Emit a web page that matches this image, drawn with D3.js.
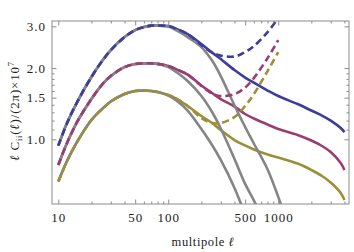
<!DOCTYPE html>
<html>
<head>
<meta charset="utf-8">
<script src="https://cdn.jsdelivr.net/npm/d3@7"></script>
<style>
  body { margin: 0; background: #fff; }
  svg { display: block; }
  .tick text { font-family: "Liberation Serif", serif; font-size: 13px; letter-spacing: 1px; fill: #222; }
  .tick line { stroke: #8c8c8c; }
</style>
</head>
<body>
<svg width="354" height="252"></svg>
<script>
const ells = [10, 12, 15, 20, 25, 30, 40, 50, 60, 70, 80, 100, 120, 150, 200, 250, 300, 400, 500, 600, 800, 1000, 1500, 2000, 2500, 3000, 3700, 4000];

const blueSolid = [0.940, 1.172, 1.451, 1.832, 2.140, 2.381, 2.702, 2.892, 2.978, 3.021, 3.021, 3.006, 2.920, 2.782, 2.525, 2.324, 2.182, 1.961, 1.823, 1.736, 1.607, 1.523, 1.409, 1.323, 1.260, 1.200, 1.116, 1.073];
const blueDashed = [0.940, 1.172, 1.451, 1.832, 2.140, 2.381, 2.702, 2.892, 2.978, 3.021, 3.021, 3.006, 2.920, 2.782, 2.500, 2.324, 2.257, 2.236, 2.335, 2.476, 2.836, 3.249, null, null, null, null, null, null];
const blueGray = [0.940, 1.172, 1.451, 1.832, 2.140, 2.381, 2.702, 2.892, 2.978, 3.021, 3.021, 2.992, 2.877, 2.702, 2.452, 2.150, 1.850, 1.389, 1.127, 0.960, 0.746, 0.571, 0.330, null, null, null, null, null];

const magentaSolid = [0.779, 0.965, 1.195, 1.479, 1.703, 1.850, 2.019, 2.079, 2.093, 2.093, 2.083, 2.039, 1.970, 1.877, 1.687, 1.568, 1.479, 1.375, 1.279, 1.224, 1.155, 1.105, 1.043, 0.988, 0.937, 0.884, 0.794, 0.742];
const magentaDashed = [0.779, 0.965, 1.195, 1.479, 1.703, 1.850, 2.019, 2.079, 2.093, 2.093, 2.083, 2.039, 1.970, 1.877, 1.679, 1.561, 1.523, 1.553, 1.654, 1.814, 2.203, 2.624, null, null, null, null, null, null];
const magentaGray = [0.779, 0.965, 1.195, 1.479, 1.703, 1.850, 2.019, 2.079, 2.093, 2.093, 2.083, 2.019, 1.914, 1.762, 1.523, 1.304, 1.111, 0.826, 0.648, 0.552, 0.422, null, null, null, null, null, null, null];

const oliveSolid = [0.663, 0.810, 0.984, 1.206, 1.342, 1.444, 1.553, 1.599, 1.607, 1.599, 1.584, 1.538, 1.479, 1.382, 1.254, 1.172, 1.094, 0.993, 0.942, 0.906, 0.863, 0.838, 0.790, 0.742, 0.700, 0.657, 0.593, 0.554];
const oliveDashed = [0.663, 0.810, 0.984, 1.206, 1.342, 1.444, 1.553, 1.599, 1.607, 1.599, 1.584, 1.538, 1.479, 1.382, 1.230, 1.172, 1.172, 1.242, 1.382, 1.553, 1.942, 2.335, null, null, null, null, null, null];
const oliveGray = [0.663, 0.810, 0.984, 1.206, 1.342, 1.444, 1.553, 1.599, 1.607, 1.599, 1.584, 1.530, 1.451, 1.323, 1.105, 0.946, 0.818, 0.623, 0.479, null, null, null, null, null, null, null, null, null];

const xTicks = [10, 50, 100, 500, 1000];
const xMinor = [20, 30, 40, 60, 70, 80, 90, 200, 300, 400, 600, 700, 800, 900, 2000, 3000, 4000];
const yTicks = [1.0, 1.5, 2.0, 3.0];
const yMinor = [1.1, 1.2, 1.3, 1.4, 1.6, 1.7, 1.8, 1.9];

let svg = d3.select("svg"),
    margin = {left: 52, right: 349, top: 21, bottom: 204};

let x = d3.scaleLog().domain([8.76, 4400]).range([margin.left, margin.right]);
let y = d3.scaleLog().domain([0.533, 3.16]).range([margin.bottom, margin.top]);

svg.append("clipPath").attr("id", "plotclip")
    .append("rect")
    .attr("x", margin.left).attr("y", margin.top)
    .attr("width", margin.right - margin.left).attr("height", margin.bottom - margin.top);

let line = d3.line()
    .defined(d => d[1] != null)
    .x(d => x(d[0]))
    .y(d => y(d[1]))
    .curve(d3.curveCatmullRom.alpha(0.5));

function pairs(vals) {
    return ells.map((e, i) => [e, vals[i]]);
}

let plot = svg.append("g").attr("clip-path", "url(#plotclip)");

let colors = {blue: "#3d3d9b", magenta: "#9b3d72", olive: "#9c8f37"};
let gray = "#858585";

// order: solid, then gray, then dashed on top
let layers = [
    [blueSolid, colors.blue, null], [magentaSolid, colors.magenta, null], [oliveSolid, colors.olive, null],
    [blueGray, gray, null], [magentaGray, gray, null], [oliveGray, gray, null],
    [blueDashed, colors.blue, "7,4"], [magentaDashed, colors.magenta, "7,4"], [oliveDashed, colors.olive, "7,4"]
];

layers.forEach(function (l) {
    plot.append("path")
        .datum(pairs(l[0]))
        .attr("fill", "none")
        .attr("stroke", l[1])
        .attr("stroke-width", 2.6)
        .attr("stroke-dasharray", l[2])
        .attr("d", line);
});

// frame axes, ticks pointing inward
let fmtX = d3.format("d");
let fmtY = d3.format(".1f");

svg.append("g").attr("transform", "translate(0," + margin.bottom + ")")
    .call(d3.axisBottom(x).tickValues(xTicks).tickFormat(fmtX).tickSize(-4.5).tickPadding(9));
svg.append("g").attr("transform", "translate(0," + margin.bottom + ")")
    .call(d3.axisBottom(x).tickValues(xMinor).tickFormat("").tickSize(-2.5));
svg.append("g").attr("transform", "translate(0," + margin.top + ")")
    .call(d3.axisTop(x).tickValues(xTicks).tickFormat("").tickSize(-4.5));
svg.append("g").attr("transform", "translate(0," + margin.top + ")")
    .call(d3.axisTop(x).tickValues(xMinor).tickFormat("").tickSize(-2.5));

svg.append("g").attr("transform", "translate(" + margin.left + ",0)")
    .call(d3.axisLeft(y).tickValues(yTicks).tickFormat(fmtY).tickSize(-4.5).tickPadding(6));
svg.append("g").attr("transform", "translate(" + margin.left + ",0)")
    .call(d3.axisLeft(y).tickValues(yMinor).tickFormat("").tickSize(-2.5));
svg.append("g").attr("transform", "translate(" + margin.right + ",0)")
    .call(d3.axisRight(y).tickValues(yTicks).tickFormat("").tickSize(-4.5));
svg.append("g").attr("transform", "translate(" + margin.right + ",0)")
    .call(d3.axisRight(y).tickValues(yMinor).tickFormat("").tickSize(-2.5));

svg.selectAll(".domain").remove();

svg.append("rect")
    .attr("x", margin.left).attr("y", margin.top)
    .attr("width", margin.right - margin.left).attr("height", margin.bottom - margin.top)
    .attr("fill", "none")
    .attr("stroke", "#8c8c8c")
    .attr("stroke-width", 1);

// axis titles
svg.append("text")
    .attr("x", 203)
    .attr("y", 246)
    .attr("text-anchor", "middle")
    .attr("font-family", "Liberation Serif, serif")
    .attr("font-size", 12.5)
    .attr("letter-spacing", 0.6)
    .attr("fill", "#222")
    .html('multipole <tspan font-style="italic">ℓ</tspan>');

let yl = svg.append("text")
    .attr("transform", "translate(19,111) rotate(-90)")
    .attr("text-anchor", "middle")
    .attr("font-family", "Liberation Serif, serif")
    .attr("font-size", 13)
    .attr("letter-spacing", 0.8)
    .attr("fill", "#222");
yl.append("tspan").attr("font-style", "italic").text("ℓ");
yl.append("tspan").text(" C");
yl.append("tspan").attr("font-size", 8.5).attr("dy", 3).text("ii");
yl.append("tspan").attr("dy", -3).text("(");
yl.append("tspan").attr("font-style", "italic").text("ℓ");
yl.append("tspan").text(")/(2π)×10");
yl.append("tspan").attr("font-size", 8.5).attr("dy", -5.5).text("7");
</script>
</body>
</html>
